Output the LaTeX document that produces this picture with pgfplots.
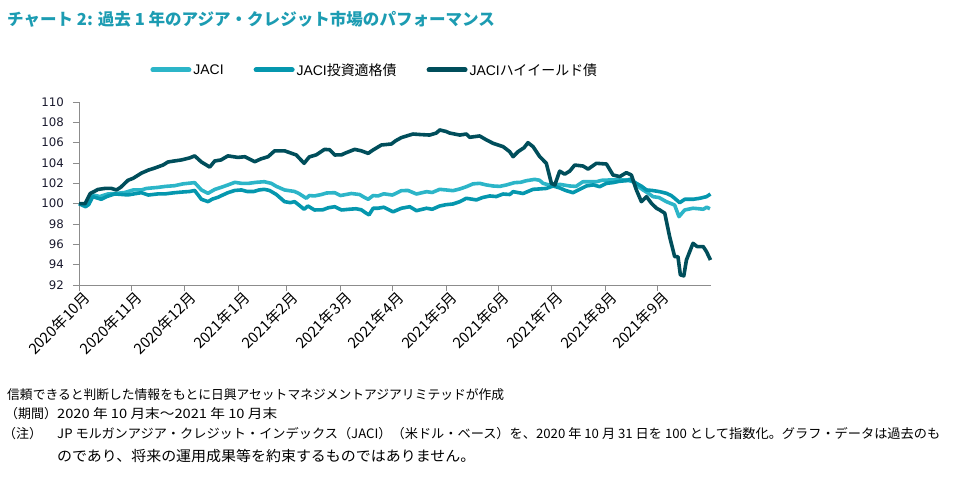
\documentclass[border=0pt]{standalone}
\usepackage{pgfplots}
\pgfplotsset{compat=1.18}
\usepackage{fontspec}
\setmainfont{Liberation Sans}
\newfontfamily\jp{Noto Sans CJK JP}
\newfontfamily\dv{DejaVu Sans}
\definecolor{cLight}{HTML}{2CB5C8}
\definecolor{cMid}{HTML}{0597AE}
\definecolor{cDark}{HTML}{004E5B}
\definecolor{cTitle}{HTML}{1C9CB2}
\definecolor{cAxis}{HTML}{8C8C8C}
\definecolor{cLab}{HTML}{1A1A2E}
\begin{document}
\begin{tikzpicture}
\path[use as bounding box] (0bp,0bp) rectangle (958bp,-500bp);
\node[anchor=west, inner sep=0pt, text=cTitle, font=\jp\bfseries\fontsize{16.6}{19}\selectfont] at (7bp,-19bp) {チャート 2: 過去 1 年のアジア・クレジット市場のパフォーマンス};
\begin{axis}[
  at={(79bp,-285bp)}, anchor=south west,
  scale only axis, width=632bp, height=183bp,
  xmin=0, xmax=365, ymin=92, ymax=110,
  axis x line*=bottom, axis y line*=left,
  axis line style={cAxis, line width=0.8bp, -},
  every tick/.style={cAxis, line width=0.8bp},
  tick align=outside, major tick length=6bp,
  ytick={92,94,...,110},
  xtick={0,30,61,92,120,151,181,212,242,273,304,334},
  xticklabels={2020年10月,2020年11月,2020年12月,2021年1月,2021年2月,2021年3月,2021年4月,2021年5月,2021年6月,2021年7月,2021年8月,2021年9月},
  xticklabel style={rotate=45, anchor=east, font=\jp\fontsize{15}{16}\selectfont, inner sep=1bp, xshift=4bp, yshift=-9bp},
  yticklabel style={font=\dv\fontsize{11.8}{13}\selectfont, text=cLab, inner sep=0pt, xshift=-9bp},
  /pgf/number format/assume math mode=true,
  legend columns=3,
  legend style={draw=none, fill=none, at={(0.468,1.175)}, anchor=center, font=\fontsize{14}{16}\selectfont, inner sep=0pt,
     /tikz/every even column/.append style={column sep=28bp}},
  legend cell align=left,
  legend image code/.code={\draw[#1, line width=5bp, line cap=round] (0bp,0bp) -- (36bp,0bp);},
  clip=false,
]
\addplot[cLight, line width=3.6bp, line join=round] coordinates {
(0,100.0) (3.5,99.85) (5.5,99.9) (8,100.86) (12,100.7) (16.8,100.96) (21,101.0) (26.5,101.1) (31.3,101.35) (36,101.35) (39,101.5) (45.6,101.6) (50,101.7) (55.3,101.77) (60.1,101.95) (66.8,102.07) (70.7,101.35) (74.5,101.02) (78.4,101.4) (82,101.6) (86,101.84) (90,102.1) (93.8,102.0) (98,102.0) (102.4,102.1) (107,102.16) (111,102.0) (114,101.7) (118.7,101.35) (124.5,101.2) (127,101.0) (131.3,100.53) (133,100.8) (136,100.76) (140,100.9) (143,101.05) (147.7,101.08) (151,100.8) (157.3,101.0) (162,100.9) (165,100.6) (167,100.43) (169.9,100.8) (172.7,100.76) (176,100.97) (181,100.85) (186.2,101.28) (190,101.3) (194.9,100.95) (200.7,101.18) (204,101.1) (208.3,101.41) (212,101.35) (216,101.28) (220,101.45) (223.7,101.67) (227.6,101.95) (231.4,102.0) (235,101.85) (239.1,101.74) (243,101.7) (246.8,101.84) (251.6,102.07) (255,102.1) (258.4,102.26) (263.2,102.39) (266,102.3) (268,102.0) (273.8,101.74) (277.6,101.9) (283.4,101.74) (287,101.7) (291.1,102.16) (298.8,102.16) (302,102.3) (306.5,102.33) (311,102.35) (316.1,102.33) (320,102.16) (323,101.7) (325.7,101.35) (329,101.0) (331.5,100.69) (335,100.6) (339.2,100.2) (342,100.0) (344,99.87) (346.5,98.72) (349.8,99.38) (354.6,99.55) (358,99.5) (360.5,99.45) (362.5,99.65) (364.4,99.5)
};
\addlegendentry{JACI}
\addplot[cMid, line width=3.6bp, line join=round] coordinates {
(0,100.0) (3.8,99.7) (5.5,99.9) (8,100.69) (12.9,100.43) (16,100.7) (20.6,100.96) (25,100.9) (28.3,100.86) (32,100.97) (36,101.08) (40,100.85) (45.6,100.96) (50,100.97) (55.3,101.08) (60,101.15) (64,101.2) (66.8,101.3) (70.7,100.43) (74.5,100.2) (77,100.45) (80.3,100.63) (83,100.85) (86,101.08) (90,101.3) (93.8,101.35) (97,101.2) (101,101.2) (104,101.35) (107,101.41) (110,101.3) (114,100.9) (118.7,100.2) (122,100.1) (124.5,100.2) (127.5,99.8) (130,99.45) (132.2,99.77) (136,99.38) (140.9,99.4) (144,99.6) (147.7,99.7) (151.6,99.38) (156,99.45) (160,99.5) (163,99.4) (166,99.05) (167.5,98.9) (169.9,99.55) (172.7,99.55) (176,99.65) (181.4,99.2) (186.2,99.55) (191,99.7) (194.9,99.31) (200.7,99.55) (204,99.45) (208.3,99.77) (212,99.9) (216,99.97) (220,100.2) (223.7,100.53) (229.5,100.37) (233,100.6) (237.2,100.76) (241,100.7) (244.9,100.95) (248.8,100.9) (250.7,101.18) (256.5,101.0) (262.2,101.41) (266,101.45) (269.9,101.5) (273.8,101.74) (277.6,101.55) (281,101.3) (285.3,101.08) (289,101.4) (293,101.74) (297,101.85) (300.7,101.67) (304.6,102.0) (308.4,102.07) (312,102.2) (316.1,102.26) (318.1,102.4) (321.9,102.0) (325,101.7) (327.7,101.35) (331,101.3) (335.4,101.18) (339.2,101.02) (342,100.8) (344,100.53) (346.9,100.1) (349.8,100.43) (354.6,100.43) (358.5,100.53) (362.4,100.69) (364.7,100.95)
};
\addlegendentry{JACI{\jp 投資適格債}}
\addplot[cDark, line width=3.6bp, line join=round] coordinates {
(0,100.0) (3.5,100.0) (6.5,101.0) (11,101.4) (15,101.5) (18.7,101.5) (21.6,101.35) (24,101.6) (28.3,102.3) (31.3,102.5) (36,103.0) (40,103.3) (43.7,103.5) (48.5,103.8) (51.4,104.1) (55,104.2) (59.1,104.3) (63.9,104.5) (66.8,104.7) (70.7,104.1) (75.5,103.6) (78.4,104.2) (82,104.3) (86,104.7) (91.8,104.55) (95.8,104.62) (101.5,104.13) (105,104.4) (109.2,104.62) (113,105.2) (118.7,105.2) (122,105.0) (125.5,104.79) (130,103.97) (133,104.6) (137,104.8) (141.8,105.34) (144.8,105.3) (147.7,104.79) (151.6,104.8) (153.4,104.95) (159.2,105.34) (163,105.2) (167,104.95) (170,105.3) (174.6,105.77) (180.4,105.87) (183,106.2) (186.2,106.5) (190,106.7) (192.9,106.85) (197,106.8) (202.5,106.75) (206.4,106.95) (208.3,107.25) (212,107.1) (214,106.95) (219.9,106.75) (223.7,106.85) (225.6,106.53) (231.4,106.66) (235,106.3) (239.1,105.94) (244.9,105.61) (248.7,105.12) (250.7,104.62) (253.6,105.12) (257,105.5) (259.3,106.0) (262.2,105.61) (266.1,104.62) (269.9,103.97) (272.8,102.0) (274.8,101.84) (277.6,103.2) (280.5,102.9) (283.4,103.2) (286.3,103.8) (291.1,103.7) (294,103.4) (298.8,103.97) (304.6,103.9) (308.4,102.82) (312.3,102.66) (316.1,103.05) (319,102.82) (321.9,101.35) (324.8,100.2) (327.7,100.69) (330.6,100.04) (333.5,99.55) (335.4,99.38) (338.3,99.06) (341.1,96.76) (344,94.79) (345.9,94.79) (347.3,93.0) (349.3,92.9) (350.8,94.46) (354.6,96.1) (357,95.78) (360.5,95.78) (362.4,95.28) (364.7,94.46)
};
\addlegendentry{JACI{\jp ハイイールド債}}
\end{axis}
\begin{scope}[every node/.style={anchor=west, inner sep=0pt, font=\jp\fontsize{13}{15}\selectfont}]
\node at (7bp,-395bp) {\resizebox{497bp}{\height}{信頼できると判断した情報をもとに日興アセットマネジメントアジアリミテッドが作成}};
\node at (5bp,-414bp) {（期間）};
\node at (57bp,-414bp) {\resizebox{220bp}{\height}{2020 年 10 月末～2021 年 10 月末}};
\node at (3bp,-434bp) {（注）};
\node at (57bp,-434bp) {\resizebox{883bp}{\height}{JP モルガンアジア・クレジット・インデックス（JACI）（米ドル・ベース）を、2020 年 10 月 31 日を 100 として指数化。グラフ・データは過去のも}};
\node[font=\jp\fontsize{14.5}{16}\selectfont] at (57bp,-456bp) {\resizebox{418bp}{\height}{のであり、将来の運用成果等を約束するものではありません。}};
\end{scope}
\end{tikzpicture}
\end{document}
